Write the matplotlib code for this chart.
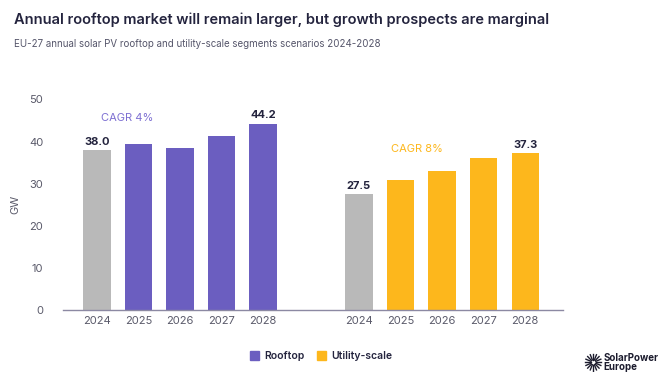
import matplotlib.pyplot as plt
import numpy as np

years = ["2024", "2025", "2026", "2027", "2028"]
rooftop = [38.0, 39.5, 38.5, 41.3, 44.2]
utility = [27.5, 30.8, 33.0, 36.2, 37.3]
labels_shown = {0: True, 4: True}

PURPLE = "#6b5ec0"
ORANGE = "#fdb71c"
GREY = "#b9b9b9"
DARK = "#24243e"
TICK = "#5a5a6a"


def main():
    plt.rcParams['font.family'] = ['Inter', 'DejaVu Sans']
    fig = plt.figure(figsize=(6.72, 3.72), dpi=100)
    ax = fig.add_axes([0.0933, 0.1667, 0.7440, 0.5660])

    x_roof = np.arange(5)
    x_util = np.arange(5) + 6.3
    roof_colors = [GREY] + [PURPLE] * 4
    util_colors = [GREY] + [ORANGE] * 4

    ax.bar(x_roof, rooftop, width=0.66, color=roof_colors)
    ax.bar(x_util, utility, width=0.66, color=util_colors)

    for i in labels_shown:
        ax.text(x_roof[i], rooftop[i] + 0.8, f"{rooftop[i]:.1f}", ha="center",
                va="bottom", fontsize=8, fontweight="bold", color=DARK)
        ax.text(x_util[i], utility[i] + 0.8, f"{utility[i]:.1f}", ha="center",
                va="bottom", fontsize=8, fontweight="bold", color=DARK)

    ax.text(0.72, 45.5, "CAGR 4%", ha="center", va="center", fontsize=8,
            color="#7d6fd2")
    ax.text(7.7, 38.3, "CAGR 8%", ha="center", va="center", fontsize=8,
            color=ORANGE)

    ax.set_xlim(-0.82, 11.2)
    ax.set_ylim(0, 50)
    ax.set_yticks([0, 10, 20, 30, 40, 50])
    ax.set_xticks(list(x_roof) + list(x_util))
    ax.set_xticklabels(years + years)
    ax.tick_params(length=0, labelsize=8, labelcolor=TICK)
    ax.tick_params(axis="y", pad=14)
    ax.tick_params(axis="x", pad=4)
    for s in ["top", "right", "left"]:
        ax.spines[s].set_visible(False)
    ax.spines["bottom"].set_color("#8c89a3")
    ax.spines["bottom"].set_linewidth(1)
    ax.set_ylabel("GW", fontsize=8, color=TICK, labelpad=6)

    fig.text(0.021, 0.948, "Annual rooftop market will remain larger, but growth prospects are marginal",
             fontsize=10.5, fontweight="semibold", color=DARK, va="center")
    fig.text(0.021, 0.883, "EU-27 annual solar PV rooftop and utility-scale segments scenarios 2024-2028",
             fontsize=7, color="#55556a", va="center")

    # legend
    handles = [plt.Rectangle((0, 0), 1, 1, color=PURPLE),
               plt.Rectangle((0, 0), 1, 1, color=ORANGE)]
    fig.legend(handles, ["Rooftop", "Utility-scale"], loc="center",
               bbox_to_anchor=(0.478, 0.043), ncol=2, frameon=False,
               fontsize=7.5, handlelength=0.9, handleheight=0.9,
               handletextpad=0.5, columnspacing=1.2,
               prop={"weight": "semibold", "size": 7.5})
    for t in fig.legends[0].get_texts():
        t.set_color(DARK)

    # logo
    lx, ly = 0.883, 0.026
    ang = np.linspace(0, 2 * np.pi, 16, endpoint=False)
    for a in ang:
        fig.add_artist(plt.Line2D([lx + 0.004 * np.cos(a), lx + 0.012 * np.cos(a)],
                                  [ly + 0.007 * np.sin(a), ly + 0.022 * np.sin(a)],
                                  color="#1c1c2e", lw=1.0, transform=fig.transFigure))
    fig.text(0.898, 0.026, "SolarPower\nEurope", fontsize=7, fontweight="bold",
             color="#1c1c2e", va="center", ha="left", linespacing=0.85)

    plt.savefig("out.png", dpi=100)


if __name__ == "__main__":
    main()
